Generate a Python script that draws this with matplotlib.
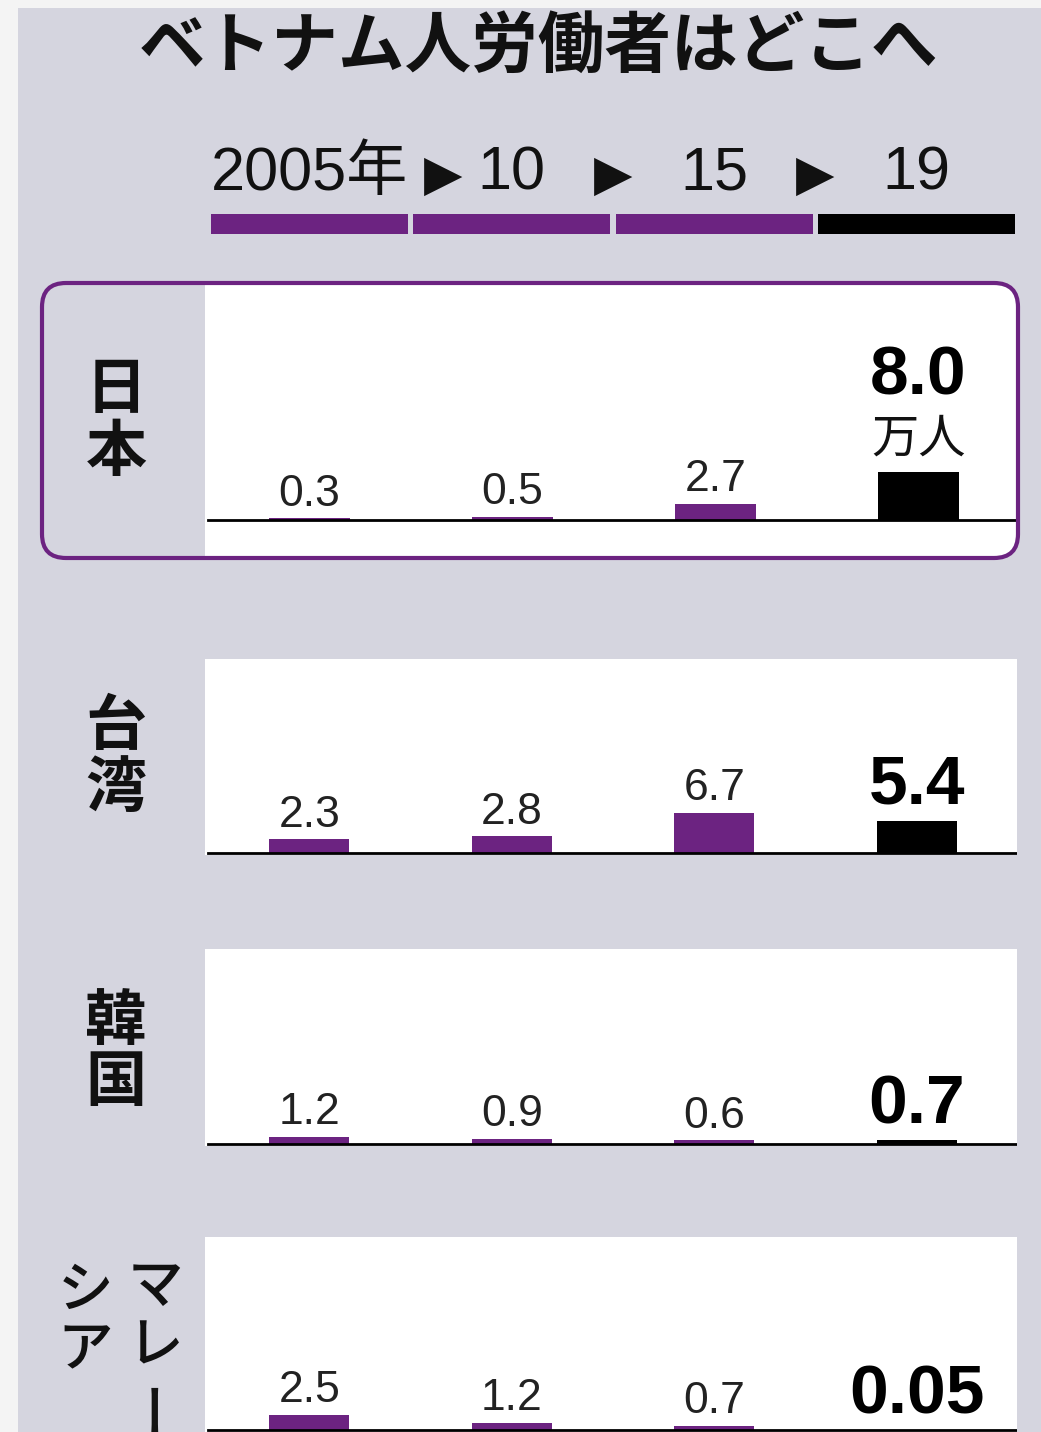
import matplotlib
matplotlib.use("Agg")
import matplotlib.pyplot as plt
from matplotlib.patches import Rectangle, FancyBboxPatch
from matplotlib.transforms import Affine2D

# ---------------- data ----------------
title = "ベトナム人労働者はどこへ"
years = ["2005年", "10", "15", "19"]
countries = ["日本", "台湾", "韓国", "マレーシア"]
japan = [0.3, 0.5, 2.7, 8.0]
taiwan = [2.3, 2.8, 6.7, 5.4]
korea = [1.2, 0.9, 0.6, 0.7]
malaysia = [2.5, 1.2, 0.7, 0.05]
unit = "万人"
series = [japan, taiwan, korea, malaysia]

# ---------------- style ----------------
PURPLE = "#6c2381"
BG = "#d5d5df"
CJK = ["Noto Sans CJK JP", "DejaVu Sans"]
NUM = ["Liberation Sans", "Noto Sans CJK JP", "DejaVu Sans"]

W, H = 1041, 1432
fig = plt.figure(figsize=(W / 100, H / 100), dpi=100)
fig.patch.set_facecolor("#f4f4f4")
PX = Affine2D().scale(1 / W, -1 / H).translate(0, 1) + fig.transFigure

fig.patches.append(Rectangle((18, 8), W - 18, H - 8, transform=PX,
                             facecolor=BG, edgecolor="none", zorder=-10))


def add_ax(x0, y0, x1, y1, **kw):
    return fig.add_axes([x0 / W, 1 - y1 / H, (x1 - x0) / W, (y1 - y0) / H], **kw)


def bare(ax):
    ax.set_xticks([])
    ax.set_yticks([])
    for s in ax.spines.values():
        s.set_visible(False)


X0, X1 = 205, 1017
XLIM = (-0.515, 3.495)
PPU = 6.0  # pixels per unit

# title
fig.text(538, 47, title, transform=PX, ha="center", va="center",
         fontsize=48, fontweight="bold", family=CJK, color="#111111")

# header: years + colour band
hax = add_ax(X0, 140, X1, 234)
hax.set_xlim(*XLIM)
hax.set_ylim(0, 94)
hax.axis("off")
for i, y in enumerate(years):
    hax.broken_barh([(i - 0.487, 0.974)], (0, 20),
                    facecolor=PURPLE if i < 3 else "black")
    hax.text(i, 44, y, ha="center", va="baseline", fontsize=44,
             family=NUM, color="#111111")
for xa in [0.66, 1.5, 2.5]:
    hax.text(xa, 44, "▶", ha="center", va="baseline", fontsize=36,
             family=["DejaVu Sans"], color="#111111")

# panels: (white top, baseline, bottom of white)
panels = [(283, 520, 558), (659, 853, 855), (949, 1144, 1146), (1237, 1430, 1432)]

# Japan rounded box
jbox = FancyBboxPatch((42, 283), 1018 - 42, 558 - 283, transform=PX,
                      boxstyle="round,pad=0,rounding_size=24",
                      facecolor="none", edgecolor=PURPLE, linewidth=3.0, zorder=5)
fig.patches.append(jbox)

for k, (vals, (top, base, bot)) in enumerate(zip(series, panels)):
    ax = add_ax(X0, top, X1 + (2 if k == 0 else 0), bot)
    ax.set_xlim(*XLIM)
    ax.set_ylim(-(bot - base) / PPU, (base - top) / PPU)
    bare(ax)
    ax.set_facecolor("white")
    if k == 0:
        ax.patch.set_clip_path(jbox)
    xs = list(range(len(vals)))
    cols = [PURPLE] * 3 + ["black"]
    ax.bar(xs, vals, width=0.395, color=cols, zorder=2)
    ax.axhline(0, xmin=0.004, xmax=1, color="black", lw=2.0, zorder=3)
    for i, v in enumerate(vals):
        last = i == len(vals) - 1
        if last and k == 0:
            ax.annotate(unit, (i, v), xytext=(0, 14), textcoords="offset points",
                        ha="center", va="baseline", fontsize=34, family=CJK,
                        color="#111111", annotation_clip=False)
            ax.annotate(str(v), (i, v), xytext=(0, 56), textcoords="offset points",
                        ha="center", va="baseline", fontsize=50, fontweight="bold",
                        family=NUM, color="#000000", annotation_clip=False)
        elif last:
            ax.annotate(str(v), (i, v), xytext=(0, 12), textcoords="offset points",
                        ha="center", va="baseline", fontsize=50, fontweight="bold",
                        family=NUM, color="#000000", annotation_clip=False)
        else:
            ax.annotate(str(v), (i, v), xytext=(0, 9), textcoords="offset points",
                        ha="center", va="baseline", fontsize=32,
                        family=NUM, color="#222222", annotation_clip=False)

# country labels (vertical writing)
label_pos = [
    [("日", 116, 390), ("本", 116, 453)],
    [("台", 116, 727), ("湾", 116, 789)],
    [("韓", 116, 1022), ("国", 116, 1083)],
    [("マ", 155, 1287), ("レ", 155, 1346), ("ー", 155, 1404),
     ("シ", 85, 1291), ("ア", 85, 1350)],
]
for k, chars in enumerate(label_pos):
    for ch, x, y in chars:
        fig.text(x, y, ch, transform=PX, ha="center", va="center",
                 fontsize=44 if k < 3 else 40,
                 fontweight="bold" if k < 3 else "medium",
                 rotation=90 if ch == "ー" else 0,
                 family=CJK, color="#111111")

fig.savefig("out.png", dpi=100, facecolor=fig.get_facecolor())
